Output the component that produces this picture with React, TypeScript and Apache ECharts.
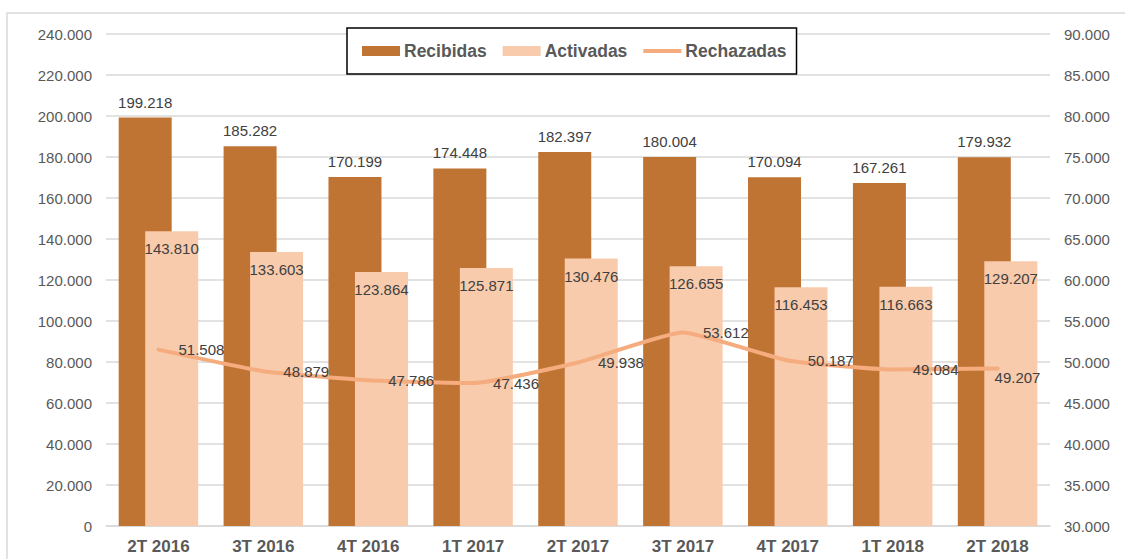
import React, { useEffect, useRef } from "react";
import * as echarts from "echarts";

const categories = ["2T 2016", "3T 2016", "4T 2016", "1T 2017", "2T 2017", "3T 2017", "4T 2017", "1T 2018", "2T 2018"];
const recibidas = [199218, 185282, 170199, 174448, 182397, 180004, 170094, 167261, 179932];
const activadas = [143810, 133603, 123864, 125871, 130476, 126655, 116453, 116663, 129207];
const rechazadas = [51508, 48879, 47786, 47436, 49938, 53612, 50187, 49084, 49207];

const fmt = (v: number) => {
  const s = Math.round(v).toString();
  return s.replace(/\B(?=(\d{3})+(?!\d))/g, ".");
};

const FONT = "'Liberation Sans', Arial, sans-serif";
const LINE_COLOR = "#F5AC7E";
const LINE_ICON = "path://M0,0 L0.01,0 L0.01,0.01 Z M0,3 L40,3 L40,7 L0,7 Z M0,10 L0.01,10 L0.01,9.99 Z";

export default function App() {
  const ref = useRef<HTMLDivElement>(null);
  useEffect(() => {
    if (!ref.current) return;
    const chart = echarts.init(ref.current, undefined, { renderer: "svg" });
    const lastIdx = rechazadas.length - 1;
    chart.setOption({
      animation: false,
      backgroundColor: "#ffffff",
      textStyle: { fontFamily: FONT },
      graphic: [
        {
          type: "rect",
          shape: { x: 7, y: 13, width: 1140, height: 560 },
          style: { fill: "none", stroke: "#D9D9D9", lineWidth: 1.5 },
          silent: true,
          z: -10,
        },
      ],
      legend: {
        left: 347,
        top: 28,
        padding: [14, 10, 14, 15],
        itemGap: 16,
        itemWidth: 38,
        itemHeight: 10,
        backgroundColor: "#ffffff",
        borderColor: "#000000",
        borderWidth: 1.5,
        textStyle: { color: "#595959", fontSize: 17.5, fontWeight: "bold", fontFamily: FONT, padding: [0, 0, 0, -1] },
        data: [
          { name: "Recibidas", icon: "rect" },
          { name: "Activadas", icon: "rect" },
          { name: "Rechazadas", icon: LINE_ICON, itemStyle: { color: LINE_COLOR, opacity: 1 } },
        ],
        z: 10,
      },
      grid: { left: 106, right: 75, top: 34, bottom: 33 },
      xAxis: {
        type: "category",
        data: categories,
        axisTick: { show: false },
        axisLine: { lineStyle: { color: "#D9D9D9", width: 1.5 } },
        axisLabel: { color: "#595959", fontSize: 17, fontWeight: "bold", margin: 12, fontFamily: FONT },
      },
      yAxis: [
        {
          type: "value",
          min: 0,
          max: 240000,
          interval: 20000,
          axisLine: { show: false },
          axisTick: { show: false },
          splitLine: { lineStyle: { color: "#D9D9D9", width: 1.5 } },
          axisLabel: { color: "#595959", fontSize: 15, margin: 14, formatter: (v: number) => fmt(v), fontFamily: FONT },
        },
        {
          type: "value",
          min: 30000,
          max: 90000,
          interval: 5000,
          axisLine: { show: false },
          axisTick: { show: false },
          splitLine: { show: false },
          axisLabel: { color: "#595959", fontSize: 15, margin: 14, formatter: (v: number) => fmt(v), fontFamily: FONT },
        },
      ],
      series: [
        {
          name: "Recibidas",
          type: "bar",
          data: recibidas,
          barWidth: 53,
          barGap: "-50%",
          itemStyle: { color: "#C07434" },
          label: {
            show: true,
            position: "top",
            distance: 8,
            color: "#404040",
            fontSize: 15,
            fontFamily: FONT,
            formatter: (p: any) => fmt(p.value),
          },
        },
        {
          name: "Activadas",
          type: "bar",
          data: activadas,
          barWidth: 53,
          itemStyle: { color: "#F8CBAD" },
          label: {
            show: true,
            position: "insideTop",
            distance: 10,
            color: "#404040",
            fontSize: 15,
            fontFamily: FONT,
            formatter: (p: any) => fmt(p.value),
          },
        },
        {
          name: "Rechazadas",
          type: "line",
          yAxisIndex: 1,
          data: rechazadas.map((v, i) =>
            i === lastIdx ? { value: v, label: { offset: [-23, 9] } } : v
          ),
          smooth: 0.15,
          symbol: "circle",
          symbolSize: 2,
          showSymbol: true,
          lineStyle: { color: LINE_COLOR, width: 4, cap: "round" },
          itemStyle: { color: LINE_COLOR },
          label: {
            show: true,
            position: "right",
            distance: 19,
            color: "#404040",
            fontSize: 15,
            fontFamily: FONT,
            formatter: (p: any) => fmt(p.value),
          },
          z: 5,
        },
      ],
    });
    return () => chart.dispose();
  }, []);
  return <div ref={ref} style={{ position: "fixed", left: 0, top: 0, width: 1125, height: 559 }} />;
}
